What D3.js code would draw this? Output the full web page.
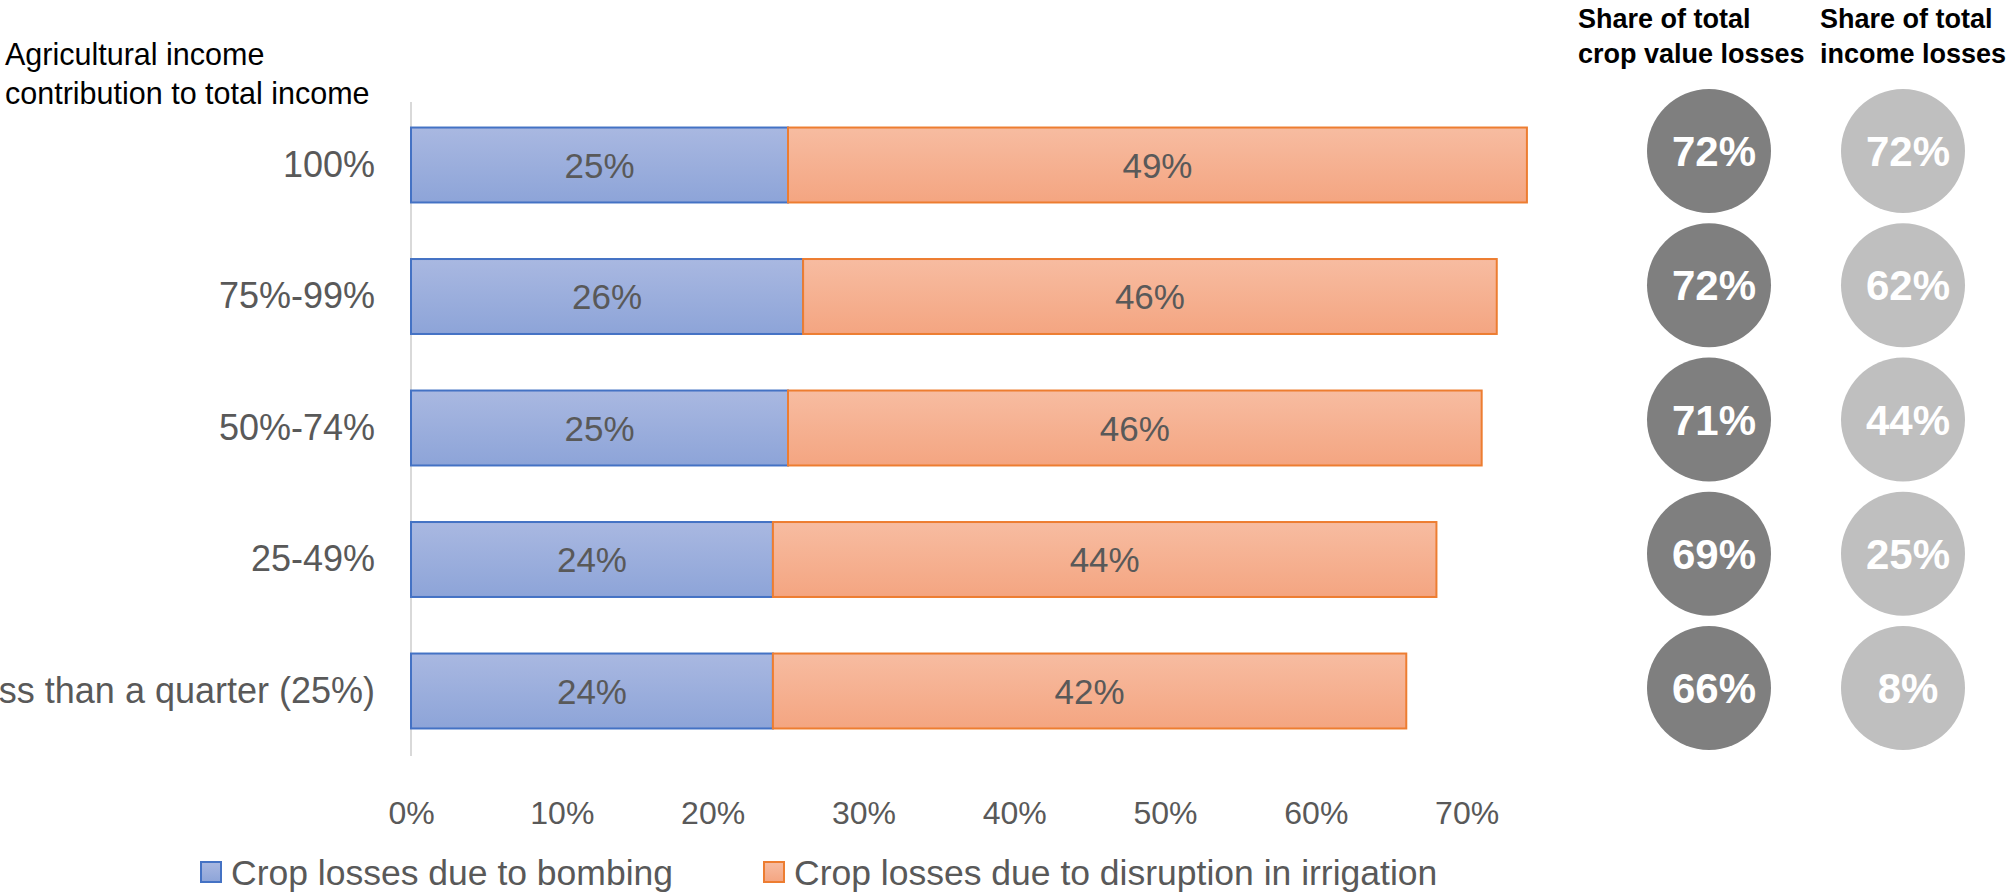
<!DOCTYPE html>
<html>
<head>
<meta charset="utf-8">
<script src="https://cdn.jsdelivr.net/npm/d3@7"></script>
<style>
  html, body { margin: 0; padding: 0; background: #fff; overflow: hidden; }
  svg { display: block; font-family: "Liberation Sans", Arial, sans-serif; }
</style>
</head>
<body>
<svg id="chart" width="2008" height="894"></svg>
<script>
const categories = ["100%", "75%-99%", "50%-74%", "25-49%", "Less than a quarter (25%)"];
const bombing = [25, 26, 25, 24, 24];
const irrigation = [49, 46, 46, 44, 42];
const cropValueShare = [72, 72, 71, 69, 66];
const incomeShare = [72, 62, 44, 25, 8];
const tickValues = [0, 10, 20, 30, 40, 50, 60, 70];
const seriesNames = ["Crop losses due to bombing", "Crop losses due to disruption in irrigation"];
const headers = [["Share of total", "crop value losses"], ["Share of total", "income losses"]];
const titleLines = ["Agricultural income", "contribution to total income"];

const svg = d3.select("#chart");
const defs = svg.append("defs");
function grad(id, c1, c2) {
  const g = defs.append("linearGradient").attr("id", id).attr("x1", 0).attr("y1", 0).attr("x2", 0).attr("y2", 1);
  g.append("stop").attr("offset", "0%").attr("stop-color", c1);
  g.append("stop").attr("offset", "100%").attr("stop-color", c2);
}
grad("gBlue", "#a9b8e1", "#8da4d8");
grad("gOrange", "#f7bca1", "#f4a581");
const fills = ["url(#gBlue)", "url(#gOrange)"];
const strokes = ["#4472c4", "#ed7d31"];

const x = d3.scaleLinear().domain([0, 70]).range([411, 1466.6]);
const y = d3.scaleBand().domain(categories).range([99.25, 756.75]).paddingInner(0.43).paddingOuter(0.215);

// axis line
svg.append("line").attr("x1", x(0)).attr("x2", x(0)).attr("y1", 102).attr("y2", 756)
  .attr("stroke", "#d9d9d9").attr("stroke-width", 2);

// stacked data
const rows = categories.map((c, i) => ({ cat: c, vals: [bombing[i], irrigation[i]] }));
const stack = rows.map(r => {
  let acc = 0;
  return r.vals.map((v, k) => { const s = { cat: r.cat, k, x0: acc, x1: acc + v, v }; acc += v; return s; });
}).flat();

svg.append("g").selectAll("rect").data(stack).join("rect")
  .attr("x", d => x(d.x0)).attr("width", d => x(d.x1) - x(d.x0))
  .attr("y", d => y(d.cat)).attr("height", y.bandwidth())
  .attr("fill", d => fills[d.k]).attr("stroke", d => strokes[d.k]).attr("stroke-width", 2);

svg.append("g").selectAll("text").data(stack).join("text")
  .attr("x", d => (x(d.x0) + x(d.x1)) / 2).attr("y", d => y(d.cat) + y.bandwidth() / 2)
  .attr("text-anchor", "middle").attr("dy", "0.36em")
  .attr("font-size", 35).attr("fill", "#595959")
  .text(d => d.v + "%");

// category labels
const yAxis = d3.axisLeft(y).tickSize(0).tickPadding(0);
const gy = svg.append("g").attr("transform", `translate(375,0)`).call(yAxis);
gy.select(".domain").remove();
gy.selectAll("text").attr("font-size", 36).attr("fill", "#595959")
  .attr("font-family", "Liberation Sans, Arial, sans-serif");

// x axis ticks
const xAxis = d3.axisBottom(x).tickValues(tickValues).tickSize(0).tickPadding(0).tickFormat(d => d + "%");
const gx = svg.append("g").attr("transform", `translate(0,812)`).call(xAxis);
gx.select(".domain").remove();
gx.selectAll("text").attr("font-size", 32).attr("fill", "#595959").attr("dy", "0.36em")
  .attr("font-family", "Liberation Sans, Arial, sans-serif");

// title
svg.append("text").attr("x", 5).attr("y", 65).attr("font-size", 30.5).attr("fill", "#000")
  .selectAll("tspan").data(titleLines).join("tspan")
  .attr("x", 5).attr("dy", (d, i) => i === 0 ? 0 : 39).text(d => d);

// headers
const headerX = [1578, 1820];
headers.forEach((lines, j) => {
  svg.append("text").attr("font-size", 27).attr("font-weight", "bold").attr("fill", "#000")
    .selectAll("tspan").data(lines).join("tspan")
    .attr("x", headerX[j]).attr("y", (d, i) => 28 + i * 35).text(d => d);
});

// circles
const yc = d3.scalePoint().domain(categories).range([151, 688]);
const circleCols = [
  { cx: 1709, vals: cropValueShare, color: "#7f7f7f" },
  { cx: 1903, vals: incomeShare, color: "#bfbfbf" }
];
circleCols.forEach(col => {
  const g = svg.append("g");
  g.selectAll("circle").data(categories).join("circle")
    .attr("cx", col.cx).attr("cy", d => yc(d)).attr("r", 62).attr("fill", col.color);
  g.selectAll("text").data(categories).join("text")
    .attr("x", col.cx + 5).attr("y", d => yc(d)).attr("dy", "0.36em")
    .attr("text-anchor", "middle").attr("font-size", 42).attr("font-weight", "bold").attr("fill", "#fff")
    .text((d, i) => col.vals[i] + "%");
});

// legend
const legendX = [201, 764];
const lg = svg.append("g");
seriesNames.forEach((name, k) => {
  lg.append("rect").attr("x", legendX[k]).attr("y", 862).attr("width", 20).attr("height", 20)
    .attr("fill", fills[k]).attr("stroke", strokes[k]).attr("stroke-width", 2);
  lg.append("text").attr("x", legendX[k] + 30).attr("y", 872).attr("dy", "0.36em")
    .attr("font-size", 35.5).attr("fill", "#595959").text(name);
});
</script>
</body>
</html>
